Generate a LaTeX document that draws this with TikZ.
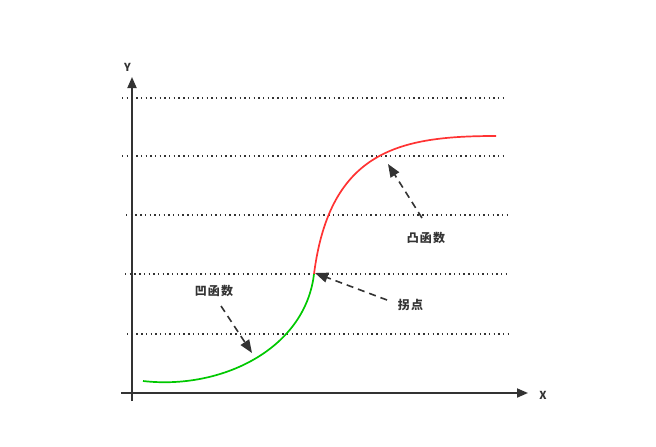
\documentclass[tikz,border=0pt]{standalone}
\usepackage{fontspec}
\newfontfamily\cjk{Noto Sans CJK SC}
\newfontfamily\cjkwide[LetterSpace=10]{Noto Sans CJK SC}
\usetikzlibrary{arrows.meta}
\definecolor{ink}{HTML}{333333}
\definecolor{greencurve}{HTML}{00C800}
\definecolor{redcurve}{HTML}{FF3333}
\tikzset{
  axis/.style={draw=ink, line width=1.8pt, -{Triangle[length=11pt,width=9pt]}},
  gridline/.style={draw=ink, line width=1.4pt, dash pattern=on 1.4pt off 3.3pt},
  pointer/.style={draw=ink, line width=1.6pt, dash pattern=on 7pt off 5pt, -{Triangle[length=13pt,width=10pt]}},
  lbl/.style={text=ink, font=\cjkwide\bfseries\fontsize{12}{14}\selectfont, inner sep=0pt},
  axlbl/.style={text=ink, font=\cjk\bfseries\fontsize{11}{12}\selectfont, inner sep=0pt},
  curve/.style={line width=1.7pt}
}
\begin{document}
\begin{tikzpicture}[x=1pt,y=-1pt]
\useasboundingbox (0,0) rectangle (656,447);
% grid lines
\coordinate (g1a) at (122,98);  \coordinate (g1b) at (503,98);
\coordinate (g2a) at (122,156); \coordinate (g2b) at (503,156);
\coordinate (g3a) at (126,215); \coordinate (g3b) at (508,215);
\coordinate (g4a) at (125,274); \coordinate (g4b) at (507,274);
\coordinate (g5a) at (127,334); \coordinate (g5b) at (508,334);
\foreach \i in {1,...,5} {\draw[gridline] (g\i a) -- (g\i b);}
% axes
\coordinate (ybot) at (132,401);
\coordinate (ytop) at (132,77);
\coordinate (xleft) at (121,393);
\coordinate (xright) at (528,393);
\draw[axis] (ybot) -- (ytop);
\draw[axis] (xleft) -- (xright);
\node[axlbl] (ylabel) at (127.5,67) {Y};
\node[axlbl] (xlabel) at (543,395) {X};
% curves
\coordinate (cstart) at (143,381);
\coordinate (infl) at (314,274);
\coordinate (cend) at (496,136);
\draw[curve, greencurve] (cstart) .. controls (220,390) and (305,350) .. (infl);
\draw[curve, redcurve] (infl) .. controls (330,150) and (400,136) .. (cend);
% labels and pointers
\node[lbl] (concave) at (214,291) {凹函数};
\node[lbl] (convex) at (426,238) {凸函数};
\node[lbl] (inflection) at (410.5,305) {拐点};
\coordinate (concaveTip) at (252,353);
\coordinate (convexTip) at (388,164);
\coordinate (inflTip) at (315,273);
\coordinate (concaveTail) at (221,306);
\coordinate (convexTail) at (422,218);
\coordinate (inflTail) at (387,300);
\draw[pointer] (concaveTail) -- (concaveTip);
\draw[pointer] (convexTail) -- (convexTip);
\draw[pointer] (inflTail) -- (inflTip);
\end{tikzpicture}
\end{document}
